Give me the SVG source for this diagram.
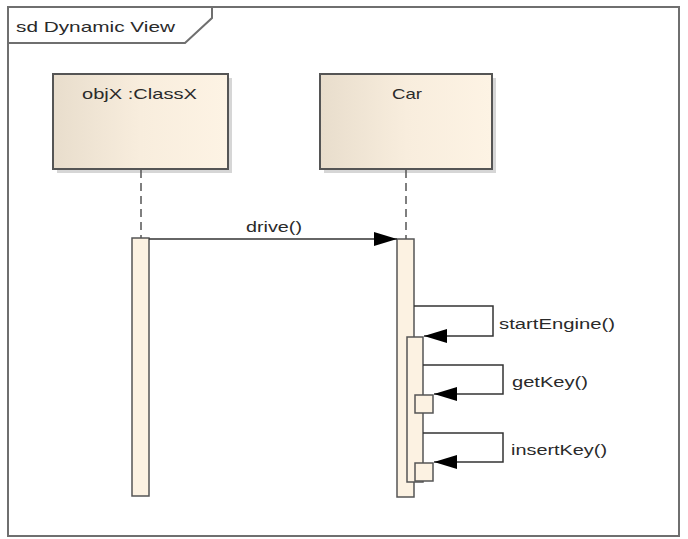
<svg xmlns="http://www.w3.org/2000/svg" width="688" height="539" viewBox="0 0 688 539">
<style>
text{font-family:"Liberation Sans",Arial,sans-serif;fill:#2a2a2a}
.t14{font-size:14px}
.t15{font-size:15px}
.obj{stroke:#555;stroke-width:2}
.act{fill:#fcf2e2;stroke:#555;stroke-width:1.5}
.life{stroke:#555;stroke-width:1.5;stroke-dasharray:8,5;fill:none}
.msg{stroke:#333;stroke-width:1.5;fill:none}
.shadow{fill:#bbb;opacity:0.6}
</style>
<defs>
<linearGradient id="g" x1="0" y1="0" x2="1" y2="0">
<stop offset="0" stop-color="#e8ddcc"/>
<stop offset="0.5" stop-color="#f8eddd"/>
<stop offset="1" stop-color="#fdf3e4"/>
</linearGradient>
<marker id="ah" markerWidth="24" markerHeight="16" refX="23" refY="7" orient="auto" markerUnits="userSpaceOnUse">
<path d="M0,0 L23,7 L0,14 Z" fill="#000"/>
</marker>
</defs>
<rect width="688" height="539" fill="#fff"/>
<g id="frame">
<rect x="8" y="7" width="671" height="529" fill="none" stroke="#6f6f6f" stroke-width="2"/>
<path d="M8,43 L185,43 L212,18 L212,7" fill="none" stroke="#6f6f6f" stroke-width="2"/>
<text class="t15" x="16" y="32" textLength="159" lengthAdjust="spacingAndGlyphs">sd Dynamic View</text>
</g>
<g id="objX">
<rect class="shadow" x="57" y="78" width="175" height="95"/>
<rect class="obj" x="53" y="74" width="175" height="95" fill="url(#g)"/>
<text class="t15" x="82" y="99" textLength="115" lengthAdjust="spacingAndGlyphs">objX :ClassX</text>
</g>
<g id="car">
<rect class="shadow" x="324" y="78" width="172" height="95"/>
<rect class="obj" x="320" y="74" width="172" height="95" fill="url(#g)"/>
<text class="t15" x="392" y="99" textLength="30" lengthAdjust="spacingAndGlyphs">Car</text>
</g>
<g id="lifelines">
<line class="life" x1="141" y1="170" x2="141" y2="238"/>
<line class="life" x1="406" y1="170" x2="406" y2="239"/>
</g>
<g id="activations">
<rect class="act" x="132" y="238" width="17" height="258"/>
<rect class="act" x="397" y="239" width="17" height="258"/>
<rect class="act" x="407" y="337" width="16" height="145"/>
<rect class="act" x="415" y="395" width="18" height="18"/>
<rect class="act" x="415" y="463" width="18" height="18"/>
</g>
<g id="connectors">
<line class="msg" x1="149" y1="239" x2="397" y2="239" marker-end="url(#ah)"/>
<path class="msg" d="M414,306 L493,306 L493,336 L424,336" marker-end="url(#ah)"/>
<path class="msg" d="M423,365 L503,365 L503,394 L434,394" marker-end="url(#ah)"/>
<path class="msg" d="M423,433 L503,433 L503,462 L434,462" marker-end="url(#ah)"/>
</g>
<g id="labels">
<text class="t14" x="246" y="232" textLength="56" lengthAdjust="spacingAndGlyphs">drive()</text>
<text class="t14" x="499" y="329" textLength="116" lengthAdjust="spacingAndGlyphs">startEngine()</text>
<text class="t14" x="512" y="387" textLength="76" lengthAdjust="spacingAndGlyphs">getKey()</text>
<text class="t14" x="511" y="455" textLength="96" lengthAdjust="spacingAndGlyphs">insertKey()</text>
</g>
</svg>
